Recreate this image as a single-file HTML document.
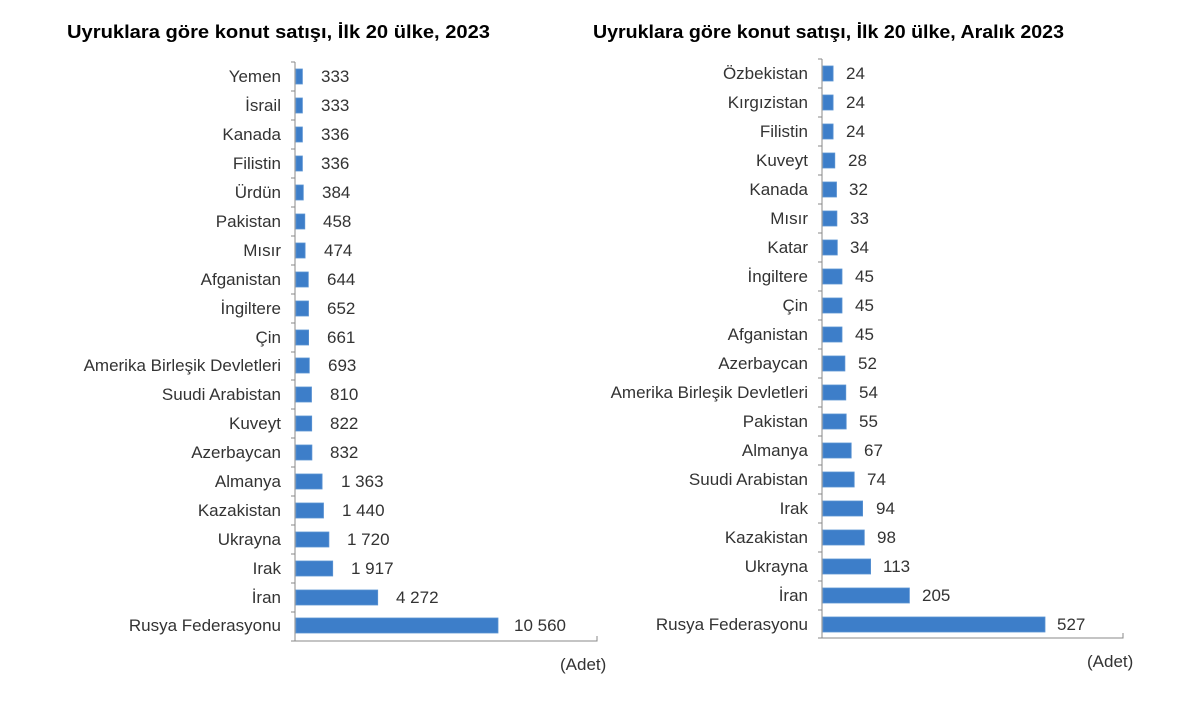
<!DOCTYPE html>
<html><head><meta charset="utf-8"><style>
html,body{margin:0;padding:0;background:#fff;}
svg{display:block;font-family:"Liberation Sans",Arial,sans-serif;}
.t{font-weight:bold;font-size:18px;fill:#000;}
.c{font-size:17px;fill:#333;text-anchor:end;}
.v{font-size:17px;fill:#333;}
.b{fill:#3d7ec9;stroke:#5a93d3;stroke-width:0.8;}
.ax{stroke:#888;stroke-width:1;fill:none;}
</style></head><body>
<svg width="1200" height="703" viewBox="0 0 1200 703">
<text class="t" x="67" y="38" textLength="423" lengthAdjust="spacingAndGlyphs">Uyruklara göre konut satışı, İlk 20 ülke, 2023</text>
<text class="t" x="593" y="38" textLength="471" lengthAdjust="spacingAndGlyphs">Uyruklara göre konut satışı, İlk 20 ülke, Aralık 2023</text>

<!-- LEFT CHART -->
<path class="ax" d="M295 62 V641 H597 V636"/>
<path class="ax" d="M291 62H295M291 91H295M291 120H295M291 149H295M291 178H295M291 207H295M291 236H295M291 265H295M291 294H295M291 323H295M291 352H295M291 380H295M291 409H295M291 438H295M291 467H295M291 496H295M291 525H295M291 554H295M291 583H295M291 612H295M291 641H295"/>
<g class="b">
<rect x="296" y="69" width="6.4" height="15"/>
<rect x="296" y="98" width="6.4" height="15"/>
<rect x="296" y="127" width="6.4" height="15"/>
<rect x="296" y="156" width="6.4" height="15"/>
<rect x="296" y="185" width="7.3" height="15"/>
<rect x="296" y="214" width="8.8" height="15"/>
<rect x="296" y="243" width="9.1" height="15"/>
<rect x="296" y="272" width="12.3" height="15"/>
<rect x="296" y="301" width="12.5" height="15"/>
<rect x="296" y="330" width="12.6" height="15"/>
<rect x="296" y="358" width="13.3" height="15"/>
<rect x="296" y="387" width="15.5" height="15"/>
<rect x="296" y="416" width="15.7" height="15"/>
<rect x="296" y="445" width="15.9" height="15"/>
<rect x="296" y="474" width="26.1" height="15"/>
<rect x="296" y="503" width="27.5" height="15"/>
<rect x="296" y="532" width="32.9" height="15"/>
<rect x="296" y="561" width="36.7" height="15"/>
<rect x="296" y="590" width="81.7" height="15"/>
<rect x="296" y="618" width="202" height="15"/>
</g>
<g class="c">
<text x="281" y="82">Yemen</text>
<text x="281" y="111">İsrail</text>
<text x="281" y="140">Kanada</text>
<text x="281" y="169">Filistin</text>
<text x="281" y="198">Ürdün</text>
<text x="281" y="227">Pakistan</text>
<text x="281" y="256">Mısır</text>
<text x="281" y="285">Afganistan</text>
<text x="281" y="314">İngiltere</text>
<text x="281" y="343">Çin</text>
<text x="281" y="371">Amerika Birleşik Devletleri</text>
<text x="281" y="400">Suudi Arabistan</text>
<text x="281" y="429">Kuveyt</text>
<text x="281" y="458">Azerbaycan</text>
<text x="281" y="487">Almanya</text>
<text x="281" y="516">Kazakistan</text>
<text x="281" y="545">Ukrayna</text>
<text x="281" y="574">Irak</text>
<text x="281" y="603">İran</text>
<text x="281" y="631">Rusya Federasyonu</text>
</g>
<g class="v">
<text x="321" y="82">333</text>
<text x="321" y="111">333</text>
<text x="321" y="140">336</text>
<text x="321" y="169">336</text>
<text x="322" y="198">384</text>
<text x="323" y="227">458</text>
<text x="324" y="256">474</text>
<text x="327" y="285">644</text>
<text x="327" y="314">652</text>
<text x="327" y="343">661</text>
<text x="328" y="371">693</text>
<text x="330" y="400">810</text>
<text x="330" y="429">822</text>
<text x="330" y="458">832</text>
<text x="341" y="487">1 363</text>
<text x="342" y="516">1 440</text>
<text x="347" y="545">1 720</text>
<text x="351" y="574">1 917</text>
<text x="396" y="603">4 272</text>
<text x="514" y="631">10 560</text>
<text x="560" y="670">(Adet)</text>
</g>

<!-- RIGHT CHART -->
<path class="ax" d="M822 59 V638 H1123 V633"/>
<path class="ax" d="M818 59H822M818 88H822M818 117H822M818 146H822M818 175H822M818 204H822M818 233H822M818 262H822M818 291H822M818 320H822M818 349H822M818 378H822M818 407H822M818 436H822M818 465H822M818 494H822M818 523H822M818 552H822M818 581H822M818 610H822M818 638H822"/>
<g class="b">
<rect x="823" y="66" width="10.1" height="15"/>
<rect x="823" y="95" width="10.1" height="15"/>
<rect x="823" y="124" width="10.1" height="15"/>
<rect x="823" y="153" width="11.8" height="15"/>
<rect x="823" y="182" width="13.5" height="15"/>
<rect x="823" y="211" width="13.9" height="15"/>
<rect x="823" y="240" width="14.3" height="15"/>
<rect x="823" y="269" width="19" height="15"/>
<rect x="823" y="298" width="19" height="15"/>
<rect x="823" y="327" width="19" height="15"/>
<rect x="823" y="356" width="21.9" height="15"/>
<rect x="823" y="385" width="22.8" height="15"/>
<rect x="823" y="414" width="23.2" height="15"/>
<rect x="823" y="443" width="28.2" height="15"/>
<rect x="823" y="472" width="31.2" height="15"/>
<rect x="823" y="501" width="39.6" height="15"/>
<rect x="823" y="530" width="41.3" height="15"/>
<rect x="823" y="559" width="47.6" height="15"/>
<rect x="823" y="588" width="86.4" height="15"/>
<rect x="823" y="617" width="222" height="15"/>
</g>
<g class="c">
<text x="808" y="79">Özbekistan</text>
<text x="808" y="108">Kırgızistan</text>
<text x="808" y="137">Filistin</text>
<text x="808" y="166">Kuveyt</text>
<text x="808" y="195">Kanada</text>
<text x="808" y="224">Mısır</text>
<text x="808" y="253">Katar</text>
<text x="808" y="282">İngiltere</text>
<text x="808" y="311">Çin</text>
<text x="808" y="340">Afganistan</text>
<text x="808" y="369">Azerbaycan</text>
<text x="808" y="398">Amerika Birleşik Devletleri</text>
<text x="808" y="427">Pakistan</text>
<text x="808" y="456">Almanya</text>
<text x="808" y="485">Suudi Arabistan</text>
<text x="808" y="514">Irak</text>
<text x="808" y="543">Kazakistan</text>
<text x="808" y="572">Ukrayna</text>
<text x="808" y="601">İran</text>
<text x="808" y="630">Rusya Federasyonu</text>
</g>
<g class="v">
<text x="846" y="79">24</text>
<text x="846" y="108">24</text>
<text x="846" y="137">24</text>
<text x="848" y="166">28</text>
<text x="849" y="195">32</text>
<text x="850" y="224">33</text>
<text x="850" y="253">34</text>
<text x="855" y="282">45</text>
<text x="855" y="311">45</text>
<text x="855" y="340">45</text>
<text x="858" y="369">52</text>
<text x="859" y="398">54</text>
<text x="859" y="427">55</text>
<text x="864" y="456">67</text>
<text x="867" y="485">74</text>
<text x="876" y="514">94</text>
<text x="877" y="543">98</text>
<text x="883" y="572">113</text>
<text x="922" y="601">205</text>
<text x="1057" y="630">527</text>
<text x="1087" y="667">(Adet)</text>
</g>
</svg>
</body></html>
